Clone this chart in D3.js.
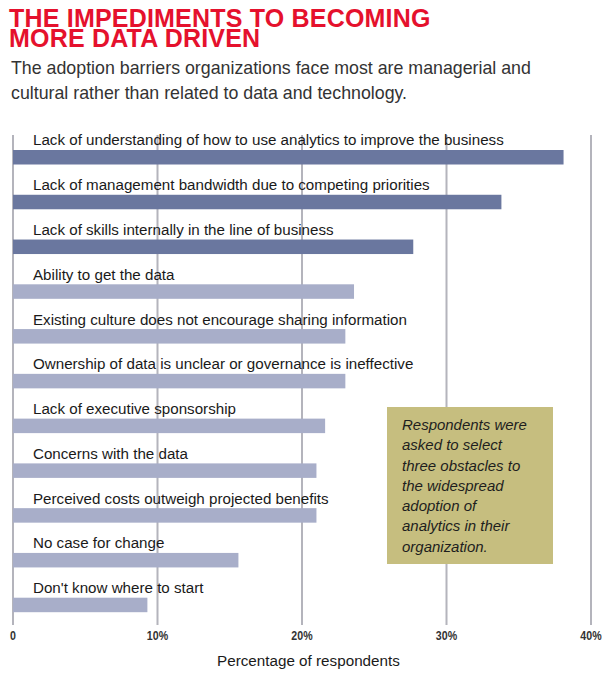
<!DOCTYPE html>
<html>
<head>
<meta charset="utf-8">
<script src="https://cdn.jsdelivr.net/npm/d3@7"></script>
<style>
  body { margin: 0; background: #fff; }
  svg { display: block; }
  .lab { font-family: "Liberation Sans", Arial, sans-serif; }
</style>
</head>
<body>
<svg id="chart"></svg>
<script>
const width = 615;
const height = 674;

// barriers, top to bottom
const categories = [
    "Lack of understanding of how to use analytics to improve the business",
    "Lack of management bandwidth due to competing priorities",
    "Lack of skills internally in the line of business",
    "Ability to get the data",
    "Existing culture does not encourage sharing information",
    "Ownership of data is unclear or governance is ineffective",
    "Lack of executive sponsorship",
    "Concerns with the data",
    "Perceived costs outweigh projected benefits",
    "No case for change",
    "Don't know where to start"
];
const values = [38.1, 33.8, 27.7, 23.6, 23.0, 23.0, 21.6, 21.0, 21.0, 15.6, 9.3];
// first three are managerial/cultural -> darker bars
const highlighted = [true, true, true, false, false, false, false, false, false, false, false];
const ticks = [0, 10, 20, 30, 40];
const tickLabels = ["0", "10%", "20%", "30%", "40%"];
const noteLines = [
    "Respondents were",
    "asked to select",
    "three obstacles to",
    "the widespread",
    "adoption of",
    "analytics in their",
    "organization."
];

const svg = d3.select("#chart").attr("width", width).attr("height", height);

// squeeze a text group horizontally so it reads like the condensed face in the original
function condense(g, x0, targetWidth) {
    const first = g.select("text").node();
    const w = first.getComputedTextLength();
    const k = targetWidth / w;
    g.attr("transform", `translate(${x0},0) scale(${k},1)`);
}

// title + subtitle
const title = svg.append("text")
    .style("font-family", "'Liberation Sans', Arial, sans-serif")
    .style("font-weight", "bold")
    .style("font-size", "25px")
    .style("letter-spacing", "0.2px")
    .style("fill", "#e5112d");
title.append("tspan").attr("x", 9).attr("y", 27).text("THE IMPEDIMENTS TO BECOMING");
title.append("tspan").attr("x", 9).attr("y", 47).text("MORE DATA DRIVEN");

const sub = svg.append("text")
    .style("font-family", "'Liberation Sans', Arial, sans-serif")
    .style("font-size", "17.8px")
    .style("fill", "#333");
sub.append("tspan").attr("x", 11).attr("y", 74)
    .text("The adoption barriers organizations face most are managerial and");
sub.append("tspan").attr("x", 11).attr("y", 99)
    .text("cultural rather than related to data and technology.");

// scales
const x = d3.scaleLinear().domain([0, 40]).range([13, 591]);
const rowStep = 44.77;
const y = d3.scaleBand()
    .domain(categories)
    .range([150, 150 + rowStep * categories.length])
    .paddingInner(0)
    .paddingOuter(0);
const barH = 14.5;

// gridlines
svg.append("g")
    .selectAll("line")
    .data(ticks)
    .join("line")
    .attr("x1", d => x(d))
    .attr("x2", d => x(d))
    .attr("y1", 135)
    .attr("y2", 625)
    .style("stroke", "#b4b4bc")
    .style("stroke-width", 2);

// bars
svg.append("g")
    .selectAll("rect")
    .data(categories)
    .join("rect")
    .attr("x", x(0))
    .attr("y", d => y(d))
    .attr("width", (d, i) => x(values[i]) - x(0))
    .attr("height", barH)
    .style("fill", (d, i) => highlighted[i] ? "#6a779f" : "#a8aec9");

// category labels sit above each bar
const labels = svg.append("g").attr("class", "lab");
labels.selectAll("text")
    .data(categories)
    .join("text")
    .attr("x", 0)
    .attr("y", d => y(d) - 4.5)
    .style("font-size", "15.3px")
    .style("fill", "#1a1a1a")
    .text(d => d);
condense(labels, 33, 471);

// x axis labels
svg.append("g")
    .attr("class", "lab")
    .selectAll("text")
    .data(ticks)
    .join("text")
    .attr("x", d => x(d))
    .attr("y", 640)
    .attr("text-anchor", "middle")
    .attr("transform", d => `translate(${x(d) * 0.15},0) scale(0.85,1)`)
    .style("font-size", "12.5px")
    .style("font-weight", "bold")
    .style("fill", "#333")
    .text((d, i) => tickLabels[i]);

const axisTitle = svg.append("g").attr("class", "lab");
axisTitle.append("text")
    .attr("x", 0)
    .attr("y", 666)
    .style("font-size", "15.5px")
    .style("fill", "#1a1a1a")
    .text("Percentage of respondents");
condense(axisTitle, 217, 183);

// note box
const note = svg.append("g");
note.append("rect")
    .attr("x", 387)
    .attr("y", 407)
    .attr("width", 166)
    .attr("height", 157)
    .style("fill", "#c6be7f");
const noteText = note.append("g").attr("class", "lab");
noteText.selectAll("text")
    .data(noteLines)
    .join("text")
    .attr("x", 0)
    .attr("y", (d, i) => 430 + i * 20.3)
    .style("font-size", "15.5px")
    .style("font-style", "italic")
    .style("fill", "#1e1e1e")
    .text(d => d);
condense(noteText, 402, 125);
</script>
</body>
</html>
